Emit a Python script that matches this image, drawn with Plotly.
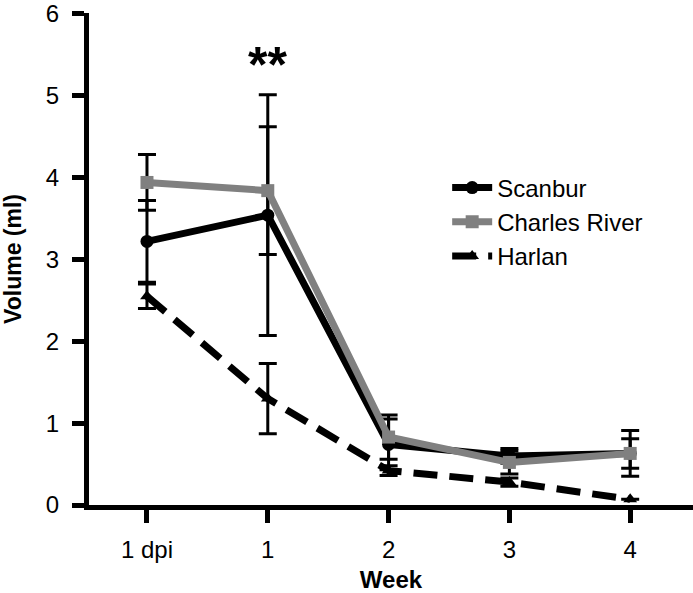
import plotly.graph_objects as go

# data
weeks = ['1 dpi', '1', '2', '3', '4']
xpos = [0, 1, 2, 3, 4]

scanbur = [3.22, 3.54, 0.74, 0.60, 0.63]
scanbur_err = [0.50, 1.47, 0.31, 0.09, 0.28]

charles = [3.94, 3.84, 0.83, 0.52, 0.63]
charles_err = [0.34, 0.78, 0.27, 0.14, 0.18]

harlan = [2.55, 1.30, 0.42, 0.28, 0.07]
harlan_err = [0.15, 0.43, 0.06, 0.05, 0.0]

fig = go.Figure()

err_style = dict(type='data', visible=True, color='black', thickness=3, width=9)

fig.add_trace(go.Scatter(
    x=xpos, y=harlan, name='Harlan', mode='lines+markers', legendrank=3,
    line=dict(color='black', width=7, dash='24px,12px'),
    marker=dict(symbol='triangle-up', size=12, color='black'),
    error_y=dict(array=harlan_err, **err_style)
))
fig.add_trace(go.Scatter(
    x=xpos, y=scanbur, name='Scanbur', mode='lines+markers', legendrank=1,
    line=dict(color='black', width=7),
    marker=dict(symbol='circle', size=13, color='black'),
    error_y=dict(array=scanbur_err, **err_style)
))
fig.add_trace(go.Scatter(
    x=xpos, y=charles, name='Charles River', mode='lines+markers', legendrank=2,
    line=dict(color='#808080', width=7),
    marker=dict(symbol='square', size=13, color='#808080'),
    error_y=dict(array=charles_err, **err_style)
))

# significance marker at week 1
fig.add_annotation(x=1, y=5.38, text='<b>**</b>', showarrow=False,
                   font=dict(size=50, color='black'))

fig.update_layout(
    width=693, height=593,
    margin=dict(l=89, r=0, t=13, b=88),
    plot_bgcolor='white', paper_bgcolor='white',
    font=dict(family='Liberation Sans, Arial', size=24, color='black'),
    showlegend=True,
    legend=dict(x=0.593, y=0.69, xanchor='left', yanchor='top',
                font=dict(size=24), bgcolor='rgba(0,0,0,0)',
                tracegroupgap=0, itemwidth=40),
    xaxis=dict(
        range=[-0.48, 4.52], tickmode='array', tickvals=xpos, ticktext=weeks,
        showline=True, linecolor='black', linewidth=5, showgrid=False, zeroline=False,
        ticks='outside', ticklen=13, tickwidth=5, tickcolor='black',
        ticklabelstandoff=6, automargin='bottom',
        tickfont=dict(size=24),
        title=dict(text='<b>Week</b>', font=dict(size=24), standoff=13),
    ),
    yaxis=dict(
        range=[0, 6.01], tickvals=[0, 1, 2, 3, 4, 5, 6],
        showline=True, linecolor='black', linewidth=5, showgrid=False, zeroline=False,
        ticks='outside', ticklen=12, tickwidth=5, tickcolor='black',
        ticklabelstandoff=8, ticklabeloverflow='allow', automargin='left',
        tickfont=dict(size=24),
        title=dict(text='<b>Volume (ml)</b>', font=dict(size=23), standoff=22),
    ),
)

# drop the default body margin so the figure sits at the window's corner
fig.write_html("out.html", config={'displayModeBar': False},
               post_script="document.body.style.margin='0';")
